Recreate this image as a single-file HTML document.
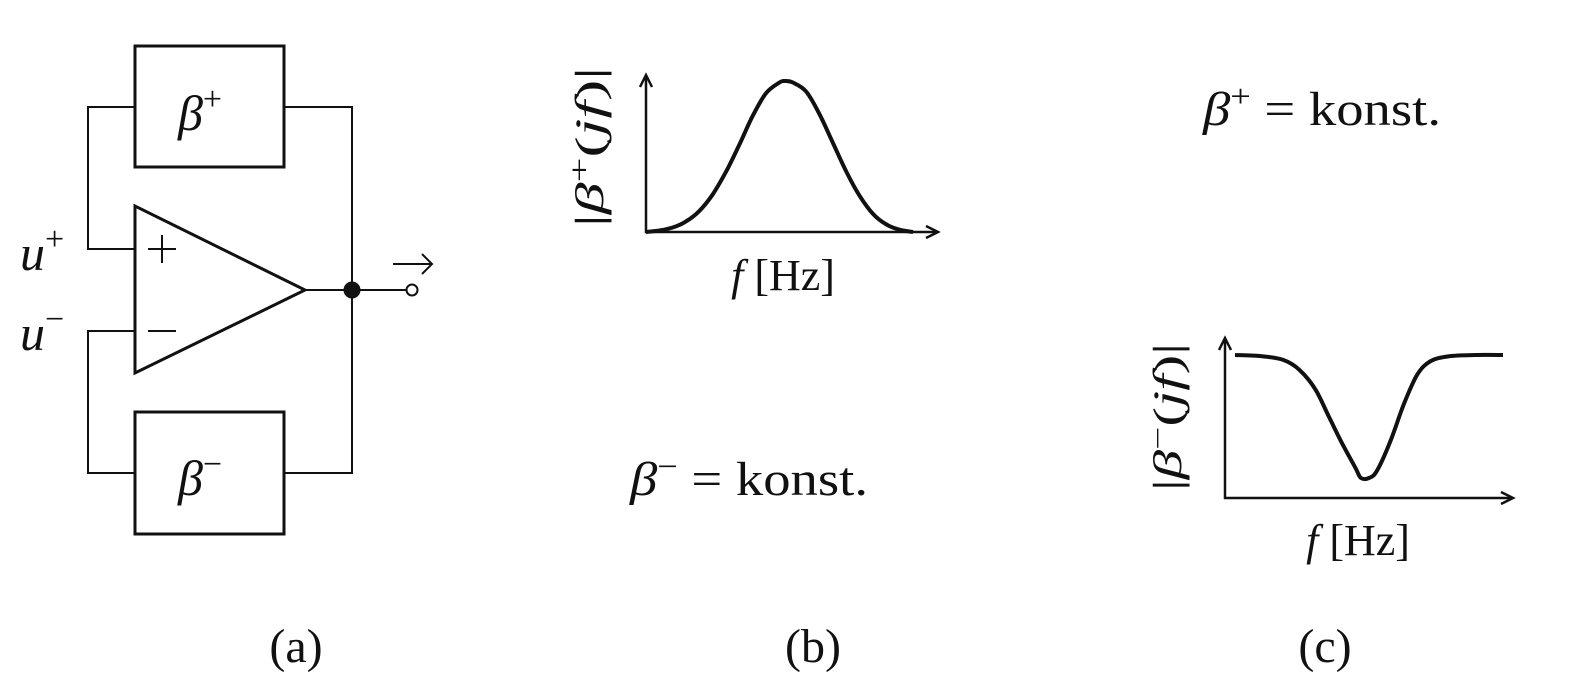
<!DOCTYPE html>
<html><head><meta charset="utf-8"><style>
body{margin:0;background:#fff;}
svg{display:block;}
text{font-family:"Liberation Serif",serif;fill:#111;}
.it{font-style:italic;}
</style></head><body>
<svg width="1587" height="683" viewBox="0 0 1587 683">
<g stroke="#111" fill="none">
 <rect x="135" y="46" width="149" height="121" stroke-width="3"/>
 <rect x="135" y="412" width="149" height="122" stroke-width="3"/>
 <polygon points="135,206 135,373 305,290" stroke-width="3"/>
 <polyline points="135,249 88,249 88,107 135,107" stroke-width="2"/>
 <polyline points="284,107 352,107 352,473 284,473" stroke-width="2"/>
 <polyline points="135,331 88,331 88,473 135,473" stroke-width="2"/>
 <line x1="305" y1="290" x2="407" y2="290" stroke-width="2"/>
 <circle cx="352" cy="290" r="8" fill="#111"/>
 <circle cx="412" cy="290" r="5.5" fill="#fff" stroke-width="2"/>
 <line x1="148" y1="249" x2="176" y2="249" stroke-width="2"/>
 <line x1="162" y1="235" x2="162" y2="263" stroke-width="2"/>
 <line x1="148" y1="331" x2="176" y2="331" stroke-width="2"/>
 <line x1="393" y1="264" x2="432" y2="264" stroke-width="2"/>
 <polyline points="422,254 432,264 422,274" stroke-width="2"/>
</g>
<text x="178" y="130" font-size="50"><tspan class="it">β</tspan><tspan font-size="34" dy="-20">+</tspan></text>
<text x="178" y="495" font-size="50"><tspan class="it">β</tspan><tspan font-size="34" dy="-20">−</tspan></text>
<text x="20" y="270" font-size="50"><tspan class="it">u</tspan><tspan font-size="34" dy="-20">+</tspan></text>
<text x="20" y="350" font-size="50"><tspan class="it">u</tspan><tspan font-size="34" dy="-20">−</tspan></text>

<g id="chartB"></g>
<g id="chartC"></g>

<text transform="translate(603,147) rotate(-90)" text-anchor="middle" font-size="40" textLength="160" lengthAdjust="spacingAndGlyphs">|<tspan class="it">β</tspan><tspan font-size="28" dy="-14">+</tspan><tspan dy="14">(</tspan><tspan class="it">jf</tspan>)|</text>
<text x="783" y="290" text-anchor="middle" font-size="44"><tspan class="it">f</tspan> [Hz]</text>
<text transform="translate(1181,417) rotate(-90)" text-anchor="middle" font-size="40" textLength="148" lengthAdjust="spacingAndGlyphs">|<tspan class="it">β</tspan><tspan font-size="28" dy="-14">−</tspan><tspan dy="14">(</tspan><tspan class="it">jf</tspan>)|</text>
<text x="1358" y="555" text-anchor="middle" font-size="44"><tspan class="it">f</tspan> [Hz]</text>

<text x="1203" y="125" font-size="48" textLength="238" lengthAdjust="spacingAndGlyphs"><tspan class="it">β</tspan><tspan font-size="32" dy="-18">+</tspan><tspan dy="18"> = konst.</tspan></text>
<text x="630" y="495" font-size="48" textLength="238" lengthAdjust="spacingAndGlyphs"><tspan class="it">β</tspan><tspan font-size="32" dy="-18">−</tspan><tspan dy="18"> = konst.</tspan></text>

<text x="296" y="662" text-anchor="middle" font-size="48">(a)</text>
<text x="813" y="662" text-anchor="middle" font-size="48">(b)</text>
<text x="1325" y="662" text-anchor="middle" font-size="48">(c)</text>
</svg>
<script>
const bX = [0,0.05,0.1,0.15,0.2,0.25,0.3,0.35,0.4,0.45,0.5,0.52,0.55,0.6,0.65,0.7,0.75,0.8,0.85,0.9,0.95,1];
const bY = [0,0.01,0.03,0.07,0.14,0.25,0.4,0.58,0.77,0.92,0.99,1,0.99,0.93,0.78,0.59,0.4,0.24,0.12,0.05,0.015,0];
const cX = [0,0.1,0.18,0.24,0.3,0.35,0.4,0.45,0.47,0.5,0.53,0.58,0.63,0.68,0.73,0.8,0.9,1];
const cY = [1,0.99,0.96,0.88,0.72,0.5,0.28,0.08,0,0,0.06,0.3,0.6,0.84,0.95,0.99,1,1];
const NS='http://www.w3.org/2000/svg';
function smooth(p){
 let d='M'+p[0][0].toFixed(1)+','+p[0][1].toFixed(1);
 for(let i=0;i<p.length-1;i++){
  const p0=p[i-1]||p[i],p1=p[i],p2=p[i+1],p3=p[i+2]||p2;
  const c1=[p1[0]+(p2[0]-p0[0])/6,p1[1]+(p2[1]-p0[1])/6];
  const c2=[p2[0]-(p3[0]-p1[0])/6,p2[1]-(p3[1]-p1[1])/6];
  d+=` C${c1[0].toFixed(1)},${c1[1].toFixed(1)} ${c2[0].toFixed(1)},${c2[1].toFixed(1)} ${p2[0].toFixed(1)},${p2[1].toFixed(1)}`;
 }
 return d;
}
function drawChart(g,ox,oy,top,xend,cx0,cx1,y0,y1,xs,ys){
 const sx=v=>cx0+v*(cx1-cx0), sy=v=>y0+v*(y1-y0);
 const ax=document.createElementNS(NS,'path');
 ax.setAttribute('d',`M${ox},${top} L${ox},${oy} L${xend},${oy}`);
 ax.setAttribute('fill','none');ax.setAttribute('stroke','#111');ax.setAttribute('stroke-width','2.5');
 
 
 g.appendChild(ax);
 const ah=document.createElementNS(NS,'path');
 ah.setAttribute('d',`M${ox-6},${top+12} L${ox},${top} L${ox+6},${top+12} M${xend-12},${oy-6} L${xend},${oy} L${xend-12},${oy+6}`);
 ah.setAttribute('fill','none');ah.setAttribute('stroke','#111');ah.setAttribute('stroke-width','2.5');
 
 
 g.appendChild(ah);
 const pts=xs.map((v,i)=>[sx(v),sy(ys[i])]);
 const c=document.createElementNS(NS,'path');
 c.setAttribute('d',smooth(pts));c.setAttribute('fill','none');c.setAttribute('stroke','#111');
 c.setAttribute('stroke-width','4');c.setAttribute('stroke-linejoin','round');
 
 
 g.appendChild(c);
}
drawChart(document.getElementById('chartB'),646,232,75,938,646,913,232,81,bX,bY);
drawChart(document.getElementById('chartC'),1225,498,338,1513,1235,1503,478,355,cX,cY);
</script>
</body></html>
